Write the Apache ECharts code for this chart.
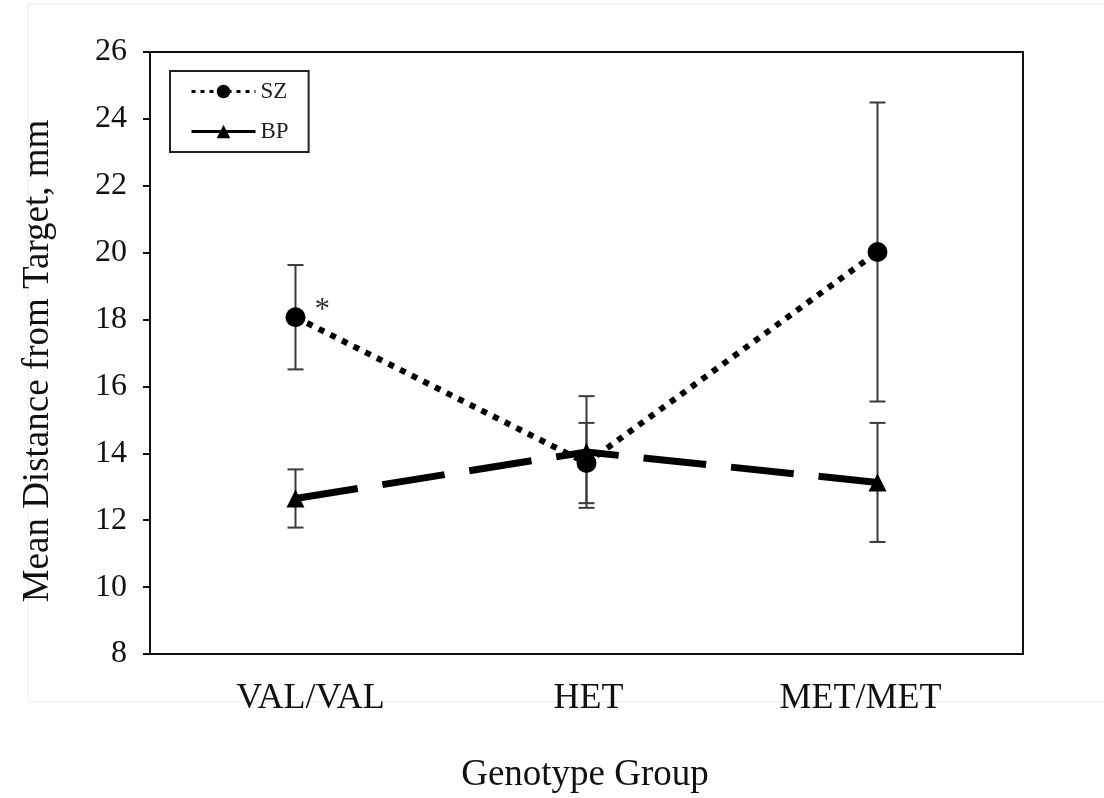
<!DOCTYPE html>
<html>
<head>
<meta charset="utf-8">
<script src="https://cdn.jsdelivr.net/npm/echarts@6/dist/echarts.min.js"></script>
<style>
html,body{margin:0;padding:0;background:#fff;}
#chart{width:1104px;height:798px;}
</style>
</head>
<body>
<div id="chart"></div>
<script>
const categories = ['VAL/VAL', 'HET', 'MET/MET'];
const szMean = [18.07, 13.71, 20.02];
const szErr = [1.56, 1.20, 4.47];
const bpMean = [12.65, 14.04, 13.13];
const bpErr = [0.87, 1.67, 1.78];
const yTicks = [8, 10, 12, 14, 16, 18, 20, 22, 24, 26];
const szNote = ['*', '', ''];

const FONT = '"Liberation Serif", "Times New Roman", serif';
// horizontal nudges of the category labels (pixels), layout only
const labelNudge = [15, 2, -17];

function errData(mean, err) {
  return mean.map((m, i) => [i, m - err[i], m + err[i]]);
}

function renderErr(params, api) {
  const x = api.value(0);
  const lo = api.coord([x, api.value(1)]);
  const hi = api.coord([x, api.value(2)]);
  const cap = 8;
  const st = { stroke: '#3a3a3a', lineWidth: 2 };
  return {
    type: 'group',
    children: [
      { type: 'line', shape: { x1: lo[0], y1: lo[1], x2: hi[0], y2: hi[1] }, style: st },
      { type: 'line', shape: { x1: hi[0] - cap, y1: hi[1], x2: hi[0] + cap, y2: hi[1] }, style: st },
      { type: 'line', shape: { x1: lo[0] - cap, y1: lo[1], x2: lo[0] + cap, y2: lo[1] }, style: st }
    ]
  };
}

const xData = categories.map((c, i) => {
  const n = labelNudge[i];
  return { value: c, textStyle: { padding: n >= 0 ? [0, 0, 0, 2 * n] : [0, -2 * n, 0, 0] } };
});

const chart = echarts.init(document.getElementById('chart'));
chart.setOption({
  animation: false,
  backgroundColor: '#fff',
  grid: { left: 150, right: 81, top: 52, bottom: 144, show: true, borderColor: '#111', borderWidth: 2 },
  graphic: [
    { type: 'rect', z: -10, shape: { x: 28, y: 4, width: 1090, height: 698 }, style: { fill: 'none', stroke: '#ececec', lineWidth: 1 } },
    { type: 'text', x: 38, y: 361, rotation: Math.PI / 2,
      style: { text: 'Mean Distance from Target, mm', font: '37px ' + FONT, fill: '#111', textAlign: 'center', textVerticalAlign: 'middle' } },
    { type: 'text', x: 585, y: 775,
      style: { text: 'Genotype Group', font: '37px ' + FONT, fill: '#111', textAlign: 'center', textVerticalAlign: 'middle' } }
  ],
  legend: {
    orient: 'vertical',
    left: 170, top: 71,
    padding: [9, 20, 9, 20],
    itemWidth: 64, itemHeight: 17, itemGap: 17, itemTextGap: 10,
    borderColor: '#222', borderWidth: 2,
    textStyle: { fontFamily: FONT, fontSize: 23, color: '#222' },
    data: [
      { name: 'SZ', lineStyle: { width: 3, type: [4, 5] } },
      { name: 'BP', lineStyle: { width: 3, type: 'solid' } }
    ]
  },
  xAxis: {
    type: 'category',
    data: xData,
    boundaryGap: true,
    axisLine: { lineStyle: { color: '#111', width: 2 } },
    axisTick: { show: false },
    axisLabel: { fontFamily: FONT, fontSize: 36, color: '#111', margin: 27 },
    splitLine: { show: false }
  },
  yAxis: {
    type: 'value',
    min: yTicks[0], max: yTicks[yTicks.length - 1], interval: 2,
    axisLine: { show: true, lineStyle: { color: '#111', width: 2 } },
    axisTick: { show: true, inside: false, length: 7, lineStyle: { color: '#111', width: 2 } },
    axisLabel: { fontFamily: FONT, fontSize: 32, color: '#111', margin: 23 },
    splitLine: { show: false }
  },
  series: [
    {
      name: 'SZ err', type: 'custom', renderItem: renderErr, data: errData(szMean, szErr),
      encode: { x: 0, y: [1, 2] }, z: 1, silent: true
    },
    {
      name: 'BP err', type: 'custom', renderItem: renderErr, data: errData(bpMean, bpErr),
      encode: { x: 0, y: [1, 2] }, z: 1, silent: true
    },
    {
      name: 'SZ', type: 'line', z: 3,
      data: szMean.map((v, i) => ({
        value: v,
        label: szNote[i] ? { show: true, formatter: szNote[i], position: [29, -12], fontFamily: FONT, fontSize: 31, color: '#333' } : { show: false }
      })),
      symbol: 'circle', symbolSize: 20,
      itemStyle: { color: '#000' },
      lineStyle: { color: '#000', width: 6, type: [6, 7], cap: 'butt' }
    },
    {
      name: 'BP', type: 'line', z: 2,
      data: bpMean,
      symbol: 'triangle', symbolSize: 18,
      itemStyle: { color: '#000' },
      lineStyle: { color: '#000', width: 7, type: [63, 25], cap: 'butt' }
    }
  ]
});
</script>
</body>
</html>
